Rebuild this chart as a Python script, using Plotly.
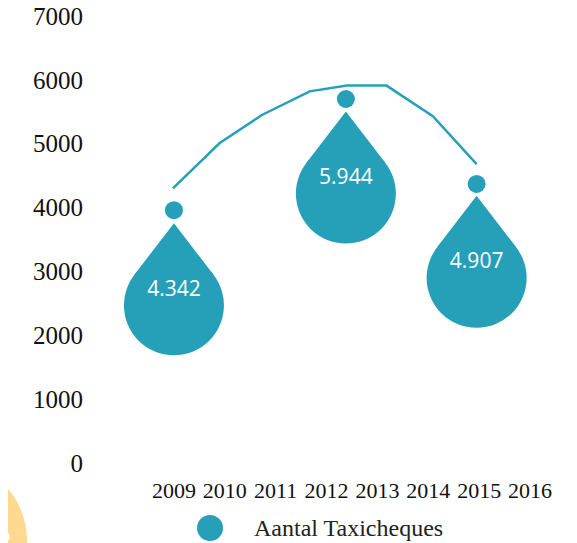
import plotly.graph_objects as go

# Arc line across the years
line_x = [2008.98, 2009.9, 2010.73, 2011.67, 2012.4, 2013.18, 2014.09, 2014.95]
line_y = [4300, 5010, 5450, 5820, 5910, 5910, 5430, 4680]

# Drops: position, label value, centre of the drop bulb and the dot above it
drop_x = [2009.0, 2012.38, 2014.95]
drop_values = [4342, 5944, 4907]
drop_center = [2470, 4220, 2900]
dot_y = [3960, 5700, 4370]

year_ticks = [2009, 2010, 2011, 2012, 2013, 2014, 2015, 2016]
y_ticks = [0, 1000, 2000, 3000, 4000, 5000, 6000, 7000]

teal = "#26a0b9"
px_per_unit = 447 / 7000  # plot height / y range

fig = go.Figure()

fig.add_trace(go.Scatter(
    x=line_x, y=line_y, mode="lines",
    line=dict(color=teal, width=2.5),
    hoverinfo="skip", showlegend=False,
))

# teardrop = round bulb + triangle tip on top
tip_shift = 47.7 / px_per_unit
fig.add_trace(go.Scatter(
    x=drop_x, y=[c + tip_shift for c in drop_center], mode="markers",
    marker=dict(symbol="triangle-up", size=68.6, color=teal, line=dict(width=0)),
    hoverinfo="skip", showlegend=False,
))
fig.add_trace(go.Scatter(
    x=drop_x, y=drop_center, mode="markers",
    marker=dict(symbol="circle", size=100, color=teal, line=dict(width=0)),
    name="Aantal Taxicheques", showlegend=False,
))

# value labels inside the drops
label_shift = 15 / px_per_unit
fig.add_trace(go.Scatter(
    x=drop_x, y=[c + label_shift for c in drop_center], mode="text",
    text=[f"{v:,}".replace(",", ".") for v in drop_values],
    textposition="middle center",
    textfont=dict(family="Open Sans", size=21, color="white"),
    hoverinfo="skip", showlegend=False,
))

fig.add_trace(go.Scatter(
    x=drop_x, y=dot_y, mode="markers",
    marker=dict(symbol="circle", size=18, color=teal, line=dict(width=0)),
    hoverinfo="skip", showlegend=False,
))

# hand-made legend (bigger symbol than plotly's legend allows)
fig.add_shape(
    type="circle", xref="paper", yref="paper",
    xsizemode="pixel", ysizemode="pixel",
    xanchor=0.257, yanchor=-0.1454,
    x0=-13, x1=13, y0=-13, y1=13,
    fillcolor=teal, line=dict(width=0),
)
fig.add_annotation(
    x=0.347, y=-0.1454, xref="paper", yref="paper",
    xanchor="left", yanchor="middle", showarrow=False,
    text="Aantal Taxicheques",
    font=dict(family="Liberation Serif", size=24, color="#222222"),
)

# page-number badge in the corner
fig.add_shape(
    type="circle", xref="paper", yref="paper",
    xsizemode="pixel", ysizemode="pixel",
    xanchor=-0.302, yanchor=-0.172,
    x0=-78, x1=78, y0=-78, y1=78,
    fillcolor="#ffd98f", line=dict(width=0), layer="below",
)
fig.add_annotation(
    x=-0.182, y=-0.172, xref="paper", yref="paper",
    xanchor="center", yanchor="middle", showarrow=False,
    text="2", font=dict(family="Noto Sans", size=24, color="white"),
)

# the page body adds an 8px offset, so the figure is 8px smaller each way
fig.update_layout(
    width=569, height=535,
    margin=dict(l=82, r=20, t=8, b=80),
    paper_bgcolor="white", plot_bgcolor="white",
    showlegend=False,
)
fig.update_xaxes(
    range=[2007.35, 2016.53],
    tickvals=year_ticks, tickformat="d",
    showgrid=False, zeroline=False, showline=False,
    ticklabelstandoff=12, automargin=False,
    tickfont=dict(family="Liberation Serif", size=22, color="#111111"),
)
fig.update_yaxes(
    range=[0, 7000],
    tickvals=y_ticks, tickformat="d",
    showgrid=False, zeroline=False, showline=False,
    automargin=False, ticklabeloverflow="allow", ticklabelstandoff=6,
    tickfont=dict(family="Liberation Serif", size=25, color="#111111"),
)

fig.write_html("out.html")
